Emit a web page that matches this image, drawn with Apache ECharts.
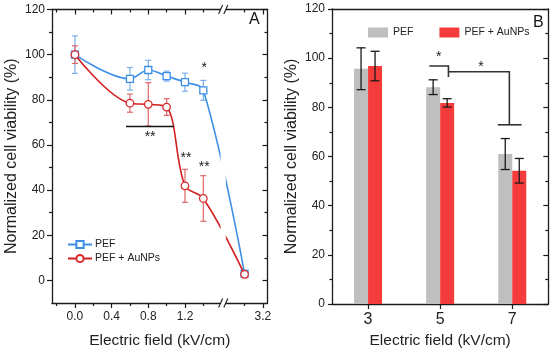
<!DOCTYPE html>
<html><head><meta charset="utf-8">
<script src="https://cdn.jsdelivr.net/npm/echarts@6/dist/echarts.min.js"></script>
<style>html,body{margin:0;padding:0;background:#fff}#c{width:550px;height:354px}</style>
</head><body><div id="c"></div>
<script>
// ---------- Panel A data ----------
const fieldA = [0.0, 0.6, 0.8, 1.0, 1.2, 1.4, 3.0];
const pefA = [100, 89.3, 93.2, 90.5, 87.8, 84.2, 3.0];
const pefAErr = [8.3, 5.0, 4.3, 2.2, 4.0, 4.4, 1.0];
const aunpA = [100, 78.5, 78.0, 76.8, 41.9, 36.3, 2.7];
const aunpAErr = [3.9, 4.0, 9.6, 3.7, 7.3, 10.1, 1.5];
const xLabelsA = [0.0, 0.4, 0.8, 1.2, 3.2];
const xMinorA = [-0.2, 0.2, 0.6, 1.0, 1.4, 3.0];
const yLabels = [0, 20, 40, 60, 80, 100, 120];
const yMinorA = [10, 30, 50, 70, 90, 110];
const starA_x = [1.41, 0.82, 1.21, 1.41];
const starA_y = [95.4, 64.8, 55.5, 51.9];
const starA_t = ['*', '**', '**', '**'];
const sigLineA = [[0.557, 68.2], [1.08, 68.2]];
// ---------- Panel B data ----------
const fieldB = [3, 5, 7];
const pefB = [95.7, 88.2, 61.0];
const pefBErr = [8.5, 3.0, 6.3];
const aunpB = [96.8, 81.8, 54.2];
const aunpBErr = [6.0, 1.7, 5.0];
const yMinorB = [10, 30, 50, 70, 90, 110];
const bracketB1 = [[4.70, 96.8], [5.23, 96.8], [5.23, 92.3]];
const bracketB2 = [[5.23, 94.5], [6.92, 94.5], [6.92, 72.9]];
const capB2 = [[6.60, 72.9], [7.26, 72.9]];
const starB_x = [4.96, 6.13];
const starB_y = [102.0, 97.9];

// broken axis: values above 1.6 are shifted left
const BREAK_FROM = 1.6, BREAK_SHIFT = 1.15, BREAK_X = 1.617;
const fx = x => x > BREAK_FROM ? x - BREAK_SHIFT : x;
const unfx = v => v > BREAK_X ? v + BREAK_SHIFT : v;

const FONT = "'Liberation Sans', Arial, sans-serif";
const AX = '#1a1a1a';
const TXT = '#222';

function errRender(offsetPx, capHalf, color, lw) {
  return function (params, api) {
    const x = api.value(0), lo = api.value(1), hi = api.value(2);
    const p1 = api.coord([x, lo]), p2 = api.coord([x, hi]);
    const cx = p1[0] + offsetPx;
    const st = { stroke: color, lineWidth: lw };
    return { type: 'group', children: [
      { type: 'line', shape: { x1: cx, y1: p1[1], x2: cx, y2: p2[1] }, style: st },
      { type: 'line', shape: { x1: cx - capHalf, y1: p1[1], x2: cx + capHalf, y2: p1[1] }, style: st },
      { type: 'line', shape: { x1: cx - capHalf, y1: p2[1], x2: cx + capHalf, y2: p2[1] }, style: st }
    ]};
  };
}
function errData(xs, ys, es, f) {
  return xs.map((x, i) => [f ? f(x) : x, ys[i] - es[i], ys[i] + es[i]]);
}
function tickAxis(o) {
  const base = {
    type: 'value', splitLine: { show: false },
    axisLabel: { show: false },
    axisTick: { show: false }
  };
  const r = Object.assign(base, o);
  r.axisLine = Object.assign({ show: false, onZero: false, lineStyle: { color: AX, width: 1.3 } }, o.axisLine || {});
  r.axisLine.onZero = false;
  return r;
}
function polyline(pts, api, style) {
  return { type: 'polyline', shape: { points: pts.map(p => api.coord(p)) }, style: style };
}

const chart = echarts.init(document.getElementById('c'), null, { renderer: 'canvas' });

const xmajA = xLabelsA.map(fx), xminA = xMinorA.map(fx);

const option = {
  animation: false,
  backgroundColor: '#fff',
  textStyle: { fontFamily: FONT },
  title: [
    { text: 'A', left: 249, top: 12, padding: 0, textStyle: { fontSize: 16, fontWeight: 'normal', color: '#111', fontFamily: FONT } },
    { text: 'B', left: 533, top: 15, padding: 0, textStyle: { fontSize: 16, fontWeight: 'normal', color: '#111', fontFamily: FONT } }
  ],
  grid: [
    { left: 52, top: 9.5, width: 215.5, height: 293.5, show: false },
    { left: 332, top: 9, width: 216.3, height: 295.3, show: false }
  ],
  legend: [
    { orient: 'vertical', left: 62, top: 234, itemWidth: 24, itemHeight: 9, itemGap: 3,
      data: ['PEF', 'PEF + AuNPs'],
      textStyle: { fontSize: 10.5, color: TXT, fontFamily: FONT, padding: [0, 0, 0, -2] } },
    { orient: 'horizontal', left: 363, top: 22, itemWidth: 20, itemHeight: 10, itemGap: 26,
      data: ['PEF (B)', 'PEF + AuNPs (B)'], icon: 'rect',
      formatter: n => n.replace(' (B)', ''),
      textStyle: { fontSize: 10.5, color: TXT, fontFamily: FONT } }
  ],
  xAxis: [
    // A bottom major + labels
    tickAxis({ gridIndex: 0, position: 'bottom', min: -0.25, max: 2.10,
      axisLine: { show: true },
      axisTick: { show: true, inside: false, length: 5, customValues: xmajA, lineStyle: { color: AX, width: 1.2 } },
      axisLabel: { show: true, customValues: xmajA, margin: 8, fontSize: 12, color: TXT, fontFamily: FONT,
        formatter: v => unfx(v).toFixed(1) },
      name: 'Electric field (kV/cm)', nameLocation: 'middle', nameGap: 30,
      nameTextStyle: { fontSize: 15.5, color: TXT, fontFamily: FONT } }),
    // A bottom minor
    tickAxis({ gridIndex: 0, position: 'bottom', min: -0.25, max: 2.10,
      axisTick: { show: true, inside: false, length: 3, customValues: xminA, lineStyle: { color: AX, width: 1.2 } } }),
    // A top major
    tickAxis({ gridIndex: 0, position: 'top', min: -0.25, max: 2.10,
      axisLine: { show: true },
      axisTick: { show: true, inside: true, length: 5, customValues: xmajA, lineStyle: { color: AX, width: 1.2 } } }),
    // A top minor
    tickAxis({ gridIndex: 0, position: 'top', min: -0.25, max: 2.10,
      axisTick: { show: true, inside: true, length: 3, customValues: xminA, lineStyle: { color: AX, width: 1.2 } } }),
    // B bottom
    tickAxis({ gridIndex: 1, position: 'bottom', min: 2, max: 8,
      axisLine: { show: true },
      axisTick: { show: true, inside: false, length: 5, customValues: fieldB, lineStyle: { color: AX, width: 1.2 } },
      axisLabel: { show: true, customValues: fieldB, margin: 8, fontSize: 16, color: TXT, fontFamily: FONT },
      name: 'Electric field (kV/cm)', nameLocation: 'middle', nameGap: 29,
      nameTextStyle: { fontSize: 15.5, color: TXT, fontFamily: FONT } }),
    // B top frame
    tickAxis({ gridIndex: 1, position: 'top', min: 2, max: 8,
      axisLine: { show: true } })
  ],
  yAxis: [
    // A left major
    tickAxis({ gridIndex: 0, position: 'left', min: -10, max: 120,
      axisLine: { show: true },
      axisTick: { show: true, inside: false, length: 5, customValues: yLabels, lineStyle: { color: AX, width: 1.2 } },
      axisLabel: { show: true, customValues: yLabels, margin: 7, fontSize: 12, color: TXT, fontFamily: FONT },
      name: 'Normalized cell viability (%)', nameLocation: 'middle', nameGap: 32,
      nameTextStyle: { fontSize: 16, color: TXT, fontFamily: FONT } }),
    // A left minor
    tickAxis({ gridIndex: 0, position: 'left', min: -10, max: 120,
      axisTick: { show: true, inside: false, length: 3, customValues: yMinorA, lineStyle: { color: AX, width: 1.2 } } }),
    // A right major
    tickAxis({ gridIndex: 0, position: 'right', min: -10, max: 120,
      axisLine: { show: true },
      axisTick: { show: true, inside: true, length: 5, customValues: yLabels, lineStyle: { color: AX, width: 1.2 } } }),
    // A right minor
    tickAxis({ gridIndex: 0, position: 'right', min: -10, max: 120,
      axisTick: { show: true, inside: true, length: 3, customValues: yMinorA, lineStyle: { color: AX, width: 1.2 } } }),
    // B left major
    tickAxis({ gridIndex: 1, position: 'left', min: 0, max: 120,
      axisLine: { show: true },
      axisTick: { show: true, inside: false, length: 4, customValues: yLabels, lineStyle: { color: AX, width: 1.2 } },
      axisLabel: { show: true, customValues: yLabels, margin: 7, fontSize: 12, color: TXT, fontFamily: FONT },
      name: 'Normalized cell viability (%)', nameLocation: 'middle', nameGap: 32,
      nameTextStyle: { fontSize: 16, color: TXT, fontFamily: FONT } }),
    // B left minor
    tickAxis({ gridIndex: 1, position: 'left', min: 0, max: 120,
      axisTick: { show: true, inside: false, length: 2.5, customValues: yMinorB, lineStyle: { color: AX, width: 1.2 } } }),
    // B right major
    tickAxis({ gridIndex: 1, position: 'right', min: 0, max: 120,
      axisLine: { show: true },
      axisTick: { show: true, inside: true, length: 5, customValues: yLabels, lineStyle: { color: AX, width: 1.2 } } }),
    // B right minor
    tickAxis({ gridIndex: 1, position: 'right', min: 0, max: 120,
      axisTick: { show: true, inside: true, length: 3, customValues: yMinorB, lineStyle: { color: AX, width: 1.2 } } })
  ],
  series: [
    // ---- Panel A ----
    { type: 'custom', name: 'errPEF', xAxisIndex: 0, yAxisIndex: 0, z: 1, clip: false,
      renderItem: errRender(0, 3, '#79aeea', 1.2), data: errData(fieldA, pefA, pefAErr, fx) },
    { type: 'custom', name: 'errAu', xAxisIndex: 0, yAxisIndex: 0, z: 1, clip: false,
      renderItem: errRender(0, 3, '#e06868', 1.2), data: errData(fieldA, aunpA, aunpAErr, fx) },
    { type: 'line', name: 'PEF', xAxisIndex: 0, yAxisIndex: 0, z: 3, smooth: 0.35,
      symbol: 'rect', symbolSize: 7,
      lineStyle: { color: '#3d8fe8', width: 1.6 },
      itemStyle: { color: '#fff', borderColor: '#3d8fe8', borderWidth: 1.3 },
      data: fieldA.map((x, i) => [fx(x), pefA[i]]) },
    { type: 'line', name: 'PEF + AuNPs', xAxisIndex: 0, yAxisIndex: 0, z: 4, smooth: 0.35,
      symbol: 'circle', symbolSize: 7.5,
      lineStyle: { color: '#d21f1f', width: 1.6 },
      itemStyle: { color: '#fff', borderColor: '#d82a2a', borderWidth: 1.3 },
      data: fieldA.map((x, i) => [fx(x), aunpA[i]]) },
    // axis break band + slashes
    { type: 'custom', name: 'break', xAxisIndex: 0, yAxisIndex: 0, z: 20, clip: false, silent: true,
      data: [[BREAK_X]],
      renderItem: function (params, api) {
        const t = api.coord([api.value(0), 120]), b = api.coord([api.value(0), -10]);
        const cx = t[0];
        const kids = [{ type: 'rect', shape: { x: cx - 2.6, y: t[1] - 2, width: 5.2, height: b[1] - t[1] + 4 },
          style: { fill: '#fff' } }];
        [t[1], b[1]].forEach(yy => {
          [-2.6, 2.6].forEach(d => kids.push({ type: 'line',
            shape: { x1: cx + d - 2, y1: yy + 4.5, x2: cx + d + 2, y2: yy - 4.5 },
            style: { stroke: AX, lineWidth: 1.1 } }));
        });
        return { type: 'group', children: kids };
      } },
    // significance marks A
    { type: 'custom', name: 'sigA', xAxisIndex: 0, yAxisIndex: 0, z: 6, clip: false, silent: true,
      data: starA_x.map((x, i) => [x, starA_y[i]]),
      renderItem: function (params, api) {
        const p = api.coord([api.value(0), api.value(1)]);
        const kids = [{ type: 'text', x: p[0], y: p[1] + 3.5,
          style: { text: starA_t[params.dataIndex], fill: '#222', font: '14px ' + FONT, align: 'center', verticalAlign: 'middle' } }];
        if (params.dataIndex === 0) kids.push(polyline(sigLineA, api, { stroke: '#111', lineWidth: 1.6, fill: null }));
        return { type: 'group', children: kids };
      } },
    // ---- Panel B ----
    { type: 'bar', name: 'PEF (B)', xAxisIndex: 4, yAxisIndex: 4, barWidth: 14, barGap: '0%',
      itemStyle: { color: '#bfbfbf' }, data: fieldB.map((x, i) => [x, pefB[i]]) },
    { type: 'bar', name: 'PEF + AuNPs (B)', xAxisIndex: 4, yAxisIndex: 4, barWidth: 14, barGap: '0%',
      itemStyle: { color: '#f53c3c' }, data: fieldB.map((x, i) => [x, aunpB[i]]) },
    { type: 'custom', name: 'errB1', xAxisIndex: 4, yAxisIndex: 4, z: 5, clip: false,
      renderItem: errRender(-7, 4.5, '#1a1a1a', 1.3), data: errData(fieldB, pefB, pefBErr) },
    { type: 'custom', name: 'errB2', xAxisIndex: 4, yAxisIndex: 4, z: 5, clip: false,
      renderItem: errRender(7, 4.5, '#1a1a1a', 1.3), data: errData(fieldB, aunpB, aunpBErr) },
    { type: 'custom', name: 'sigB', xAxisIndex: 4, yAxisIndex: 4, z: 6, clip: false, silent: true,
      data: starB_x.map((x, i) => [x, starB_y[i]]),
      renderItem: function (params, api) {
        const p = api.coord([api.value(0), api.value(1)]);
        const kids = [{ type: 'text', x: p[0], y: p[1] + 3.5,
          style: { text: '*', fill: '#222', font: '14px ' + FONT, align: 'center', verticalAlign: 'middle' } }];
        if (params.dataIndex === 0) {
          const st = { stroke: '#333', lineWidth: 1.6, fill: null };
          kids.push(polyline(bracketB1, api, st));
          kids.push(polyline(bracketB2, api, st));
          kids.push(polyline(capB2, api, st));
        }
        return { type: 'group', children: kids };
      } }
  ]
};
chart.setOption(option);
</script>
</body></html>
